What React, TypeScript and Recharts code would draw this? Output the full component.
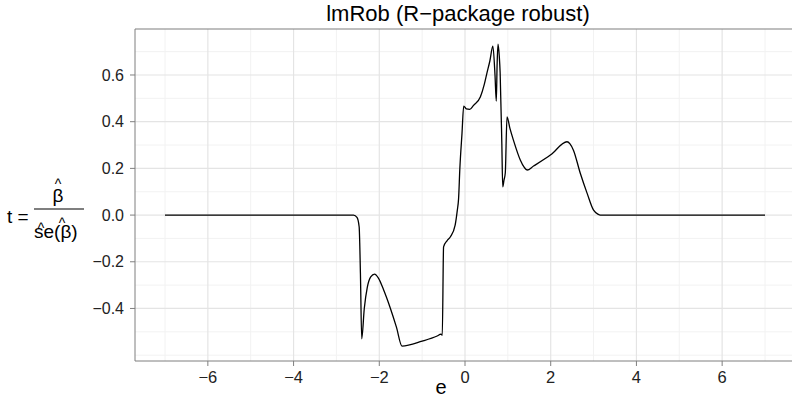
import React from "react";
import { LineChart, Line, XAxis, YAxis, CartesianGrid, ReferenceLine } from "recharts";

// e values and the t statistic
const eValues = [
  -7, -2.6, -2.52, -2.47, -2.44, -2.41, -2.35, -2.28, -2.2, -2.11, -2.02, -1.9, -1.74, -1.6, -1.47,
  -1.0, -0.65, -0.56, -0.53, -0.5, -0.42, -0.34, -0.23, -0.18, -0.15, -0.12, -0.07, -0.03,
  0.03, 0.11, 0.2, 0.36, 0.45, 0.51, 0.58, 0.65, 0.7, 0.73, 0.75, 0.77, 0.8, 0.82, 0.86, 0.88,
  0.91, 0.94, 0.98, 1.05, 1.13, 1.29, 1.38, 1.45, 1.6, 2.0, 2.38, 2.45, 2.53, 2.69, 2.85, 3.0,
  3.1, 3.16, 7,
];
const tValues = [
  0, 0, -0.01, -0.05, -0.25, -0.53, -0.4, -0.31, -0.265, -0.253, -0.27, -0.32, -0.4, -0.48, -0.561,
  -0.54, -0.518, -0.51, -0.515, -0.136, -0.11, -0.093, -0.043, 0.02, 0.07, 0.2, 0.35, 0.467,
  0.455, 0.453, 0.47, 0.507, 0.56, 0.607, 0.66, 0.724, 0.6, 0.488, 0.65, 0.732, 0.68, 0.61, 0.3, 0.121,
  0.15, 0.18, 0.421, 0.37, 0.321, 0.236, 0.205, 0.193, 0.21, 0.258, 0.314, 0.305, 0.278, 0.179, 0.093, 0.021,
  0.004, 0, 0,
];

const xTicks = [-6, -4, -2, 0, 2, 4, 6];
const xMinor = [-7, -5, -3, -1, 1, 3, 5, 7];
const yTicks = [-0.4, -0.2, 0, 0.2, 0.4, 0.6];
const yMinor = [-0.6, -0.5, -0.3, -0.1, 0.1, 0.3, 0.5, 0.7];

const title = "lmRob (R\u2212package robust)";
const xLabel = "e";

const data = eValues.map((e, i) => ({ e, t: tValues[i] }));

const FONT = "'Liberation Sans', Arial, sans-serif";
const AXIS = "#7f7f7f";
const Y_TOP = 0.797;
const minus = (s: string) => s.replace("-", "\u2212");

export default function App() {
  return (
    <div style={{ position: "absolute", left: 0, top: 0, width: 792, height: 399, overflow: "hidden", background: "#fff" }}>
      <LineChart width={800} height={399} data={data} margin={{ top: 29, right: 5, bottom: 0, left: 0 }}>
        <CartesianGrid stroke="#f2f2f2" strokeWidth={1} verticalValues={xMinor} horizontalValues={yMinor} />
        <CartesianGrid stroke="#e4e4e4" strokeWidth={1.2} verticalValues={xTicks} horizontalValues={yTicks} />
        <XAxis
          dataKey="e"
          type="number"
          domain={[-7.7, 7.7]}
          ticks={xTicks}
          allowDataOverflow
          height={38}
          stroke={AXIS}
          tickSize={5}
          tickMargin={5}
          tick={{ fontSize: 16.5, fill: "#222", fontFamily: FONT }}
          tickFormatter={(v: number) => minus(String(v))}
        />
        <YAxis
          type="number"
          domain={[-0.625, Y_TOP]}
          ticks={yTicks}
          allowDataOverflow
          width={135}
          stroke={AXIS}
          tickSize={5}
          tickMargin={6}
          tick={{ fontSize: 16, fill: "#222", fontFamily: FONT }}
          tickFormatter={(v: number) => minus(v.toFixed(1))}
        />
        <ReferenceLine y={Y_TOP} stroke={AXIS} strokeWidth={1.2} ifOverflow="visible" />
        <Line type="monotoneX" dataKey="t" stroke="#000" strokeWidth={1.3} dot={false} isAnimationActive={false} />
      </LineChart>
      <svg width={792} height={399} style={{ position: "absolute", left: 0, top: 0, pointerEvents: "none" }} fontFamily={FONT}>
        <text x={458} y={21} textAnchor="middle" fontSize={22} fill="#000">{title}</text>
        <text x={441} y={394} textAnchor="middle" fontSize={20} fill="#000">{xLabel}</text>
        <text x={7} y={223} fontSize={19} fill="#000">t =</text>
        <line x1={34} x2={84} y1={209} y2={209} stroke="#000" strokeWidth={1.2} />
        <text x={58} y={202} textAnchor="middle" fontSize={19} fill="#000">β</text>
        <text x={58} y={189} textAnchor="middle" fontSize={14} fill="#000">^</text>
        <text x={34} y={238} fontSize={19} fill="#000">se(β)</text>
        <text x={41} y={233} textAnchor="middle" fontSize={14} fill="#000">^</text>
        <text x={62} y={228} textAnchor="middle" fontSize={14} fill="#000">^</text>
      </svg>
    </div>
  );
}
